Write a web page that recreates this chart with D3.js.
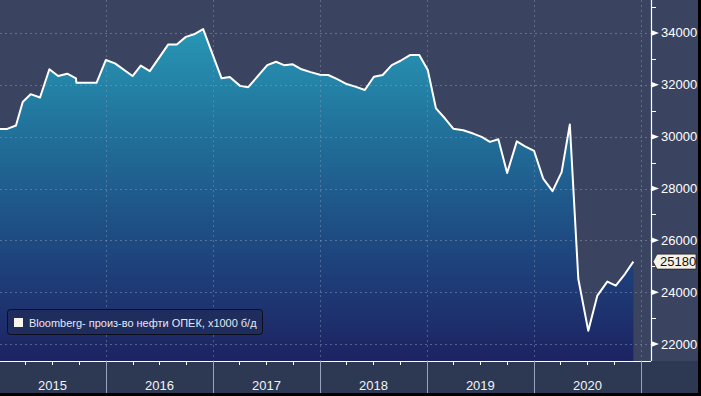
<!DOCTYPE html>
<html><head><meta charset="utf-8">
<script src="https://cdn.jsdelivr.net/npm/d3@7"></script>
<style>
html,body{margin:0;padding:0;background:#000;}
svg{display:block;}
</style></head>
<body>
<svg id="chart" width="701" height="396"></svg>
<script>
// ---- data ----
const dates = ["2014-12-28","2015-01-29","2015-02-28","2015-03-23","2015-04-19","2015-05-21","2015-06-22","2015-07-22","2015-08-22","2015-09-21","2015-09-22","2015-10-26","2015-11-30",
"2016-01-01","2016-02-01","2016-04-01","2016-04-29","2016-05-30","2016-08-01","2016-08-30","2016-09-30","2016-10-28","2016-11-28",
"2017-01-30","2017-02-27","2017-04-03","2017-05-01","2017-07-05","2017-08-04","2017-08-31","2017-09-30","2017-10-30","2017-11-30",
"2018-01-01","2018-01-29","2018-03-01","2018-04-02","2018-05-04","2018-06-03","2018-07-04","2018-08-03","2018-09-03","2018-10-03","2018-11-04","2018-12-06",
"2019-01-04","2019-02-01","2019-03-04","2019-04-01","2019-05-05","2019-06-08","2019-07-07","2019-08-04","2019-09-02","2019-10-02","2019-11-04","2019-12-02",
"2020-01-02","2020-02-02","2020-03-05","2020-04-05","2020-05-03","2020-06-01","2020-07-05","2020-08-05","2020-09-08","2020-10-07","2020-11-07","2020-12-06"];
const values = [30300,30300,30430,31340,31640,31510,32600,32340,32430,32250,32080,32080,32080,
32960,32830,32340,32740,32530,33560,33560,33850,33950,34150,
32250,32300,31960,31910,32760,32890,32760,32790,32600,32490,
32390,32380,32220,32030,31920,31800,32310,32380,32760,32930,33150,33150,
32570,31090,30700,30310,30250,30120,29990,29800,29900,28600,29820,29630,
29450,28380,27900,28630,30470,24510,22510,23870,24410,24250,24700,25180];
const yearLabels = ["2015","2016","2017","2018","2019","2020"];
const yMajorTicks = [22000,24000,26000,28000,30000,32000,34000];
const yMinorTicks = [23000,25000,27000,29000,31000,33000,35000];
const lastLabel = "25180";
const legendLabel = "Bloomberg- произ-во нефти ОПЕК, x1000 б/д";

// ---- layout ----
const W = 701, H = 396;
const axisX = 651, axisY = 361, stripBottom = 393;
const parse = d3.timeParse("%Y-%m-%d");
const data = dates.map((d,i)=>({date:parse(d), value:values[i]}));

const x = d3.scaleTime().domain([new Date(2015,0,1), new Date(2021,0,1)]).range([-1, 641]);
const y = d3.scaleLinear().domain([21346, 35273]).range([axisY, 0]);

const svg = d3.select("#chart");
const defs = svg.append("defs");
const grad = defs.append("linearGradient").attr("id","fillGrad")
  .attr("gradientUnits","userSpaceOnUse").attr("x1",0).attr("x2",0).attr("y1",30).attr("y2",axisY);
grad.append("stop").attr("offset","0%").attr("stop-color","#2896b5");
grad.append("stop").attr("offset","25%").attr("stop-color","#22789f");
grad.append("stop").attr("offset","50%").attr("stop-color","#1f5a8c");
grad.append("stop").attr("offset","75%").attr("stop-color","#1e3d78");
grad.append("stop").attr("offset","100%").attr("stop-color","#1d2362");
defs.append("clipPath").attr("id","plotClip").append("rect")
  .attr("x",0).attr("y",0).attr("width",axisX).attr("height",axisY);

// backgrounds
svg.append("rect").attr("x",0).attr("y",0).attr("width",W).attr("height",H).attr("fill","#000");
svg.append("rect").attr("x",0).attr("y",0).attr("width",698).attr("height",stripBottom).attr("fill","#3a4461");
svg.append("rect").attr("x",0).attr("y",axisY).attr("width",698).attr("height",stripBottom-axisY).attr("fill","#2d3852");

const plot = svg.append("g").attr("clip-path","url(#plotClip)");

// area
const area = d3.area().x(d=>x(d.date)).y0(axisY).y1(d=>y(d.value));
plot.append("path").datum(data).attr("d",area).attr("fill","url(#fillGrad)");

// gridlines
const yearStarts = d3.range(2015,2022).map(yr=>new Date(yr,0,1));
plot.selectAll(".hgrid").data(yMajorTicks).join("line")
  .attr("x1",0).attr("x2",axisX).attr("y1",d=>Math.round(y(d))+0.5).attr("y2",d=>Math.round(y(d))+0.5)
  .attr("stroke","#8c9ab8").attr("stroke-opacity",0.5).attr("stroke-dasharray","2,3");
plot.selectAll(".vgrid").data(yearStarts.slice(1)).join("line")
  .attr("x1",d=>Math.round(x(d))+0.5).attr("x2",d=>Math.round(x(d))+0.5).attr("y1",0).attr("y2",axisY)
  .attr("stroke","#8c9ab8").attr("stroke-opacity",0.45).attr("stroke-dasharray","2,3");

// line
const line = d3.line().x(d=>x(d.date)).y(d=>y(d.value));
plot.append("path").datum(data).attr("d",line).attr("fill","none")
  .attr("stroke","#fff").attr("stroke-width",2).attr("stroke-linejoin","round");

// x axis
svg.append("line").attr("x1",0).attr("x2",axisX).attr("y1",axisY+0.5).attr("y2",axisY+0.5)
  .attr("stroke","#fff").attr("stroke-width",1.2);
const quarters = d3.timeMonth.every(3).range(new Date(2015,0,1), new Date(2021,0,2));
svg.selectAll(".qtick").data(quarters.filter(d=>d.getMonth()!==0)).join("line")
  .attr("x1",d=>Math.round(x(d))+0.5).attr("x2",d=>Math.round(x(d))+0.5)
  .attr("y1",axisY).attr("y2",axisY+4).attr("stroke","#fff");
svg.selectAll(".ysep").data(yearStarts.slice(1)).join("line")
  .attr("x1",d=>Math.round(x(d))+0.5).attr("x2",d=>Math.round(x(d))+0.5)
  .attr("y1",axisY).attr("y2",stripBottom).attr("stroke","#98a4bc").attr("stroke-width",1);
svg.selectAll(".ylab").data(yearLabels).join("text")
  .attr("x",(d,i)=>(x(yearStarts[i])+x(yearStarts[i+1]))/2)
  .attr("y",390).attr("text-anchor","middle")
  .attr("font-family","Liberation Sans, Arial, sans-serif").attr("font-size",13)
  .attr("fill","#f2f4f8").text(d=>d);

// y axis
svg.append("line").attr("x1",axisX+0.5).attr("x2",axisX+0.5).attr("y1",0).attr("y2",axisY)
  .attr("stroke","#fff").attr("stroke-width",1.2);
svg.selectAll(".minor").data(yMinorTicks).join("line")
  .attr("x1",axisX).attr("x2",axisX+5).attr("y1",d=>Math.round(y(d))+0.5).attr("y2",d=>Math.round(y(d))+0.5)
  .attr("stroke","#fff");
svg.selectAll(".major").data(yMajorTicks).join("path")
  .attr("d",d=>{const yy=y(d);return `M${axisX},${yy-3}L${axisX+8},${yy}L${axisX},${yy+3}Z`;})
  .attr("fill","#fff");
svg.selectAll(".ytl").data(yMajorTicks).join("text")
  .attr("x",axisX+10).attr("y",d=>y(d)+4.5)
  .attr("font-family","Liberation Sans, Arial, sans-serif").attr("font-size",13)
  .attr("fill","#fff").text(d=>d);

// last value tag
const last = data[data.length-1];
const ly = y(last.value);
svg.append("path")
  .attr("d",`M${axisX+2},${ly}L${axisX+6},${ly-7.5}L696,${ly-7.5}L696,${ly+7.5}L${axisX+6},${ly+7.5}Z`)
  .attr("fill","#f6f1e9").attr("stroke","#222").attr("stroke-width",0.8);
svg.append("text").attr("x",axisX+9).attr("y",ly+4.5)
  .attr("font-family","Liberation Sans, Arial, sans-serif").attr("font-size",13)
  .attr("fill","#111").text(lastLabel);

// legend
const lg = svg.append("g");
lg.append("rect").attr("x",7.5).attr("y",309.5).attr("width",255).attr("height",25).attr("rx",3)
  .attr("fill","#1f2c5e").attr("stroke","#0c0f1c").attr("stroke-width",1);
lg.append("rect").attr("x",14).attr("y",318).attr("width",9).attr("height",9).attr("fill","#fbf4ee");
const lt = lg.append("text").attr("x",29).attr("y",327)
  .attr("font-family","Liberation Sans, Arial, sans-serif").attr("font-size",12)
  .attr("fill","#e6e8f0").text(legendLabel);
const tl = lt.node().getComputedTextLength();
if (tl > 0) lt.attr("font-size", 12*228/tl);

// right & bottom black borders
svg.append("rect").attr("x",698).attr("y",0).attr("width",3).attr("height",H).attr("fill","#000");
svg.append("rect").attr("x",0).attr("y",stripBottom).attr("width",W).attr("height",H-stripBottom).attr("fill","#000");
</script>
</body></html>
